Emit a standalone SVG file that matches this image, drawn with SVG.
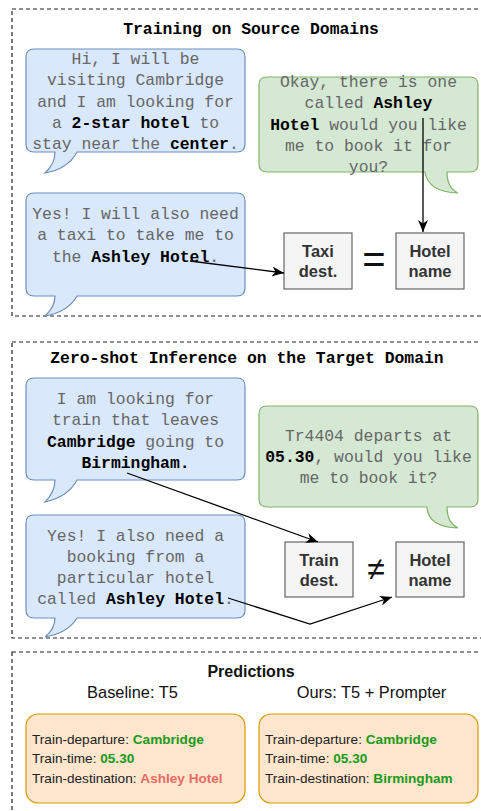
<svg xmlns="http://www.w3.org/2000/svg" width="481" height="811" viewBox="0 0 481 811">
<style>
.frame{fill:none;stroke:#222;stroke-width:1.2;stroke-dasharray:4 3}
.blue{fill:#dae8fc;stroke:#6c8ebf;stroke-width:1.2}
.green{fill:#d5e8d4;stroke:#82b366;stroke-width:1.2}
.box{fill:#f5f5f5;stroke:#666;stroke-width:1.2}
.pred{fill:#ffe6cc;stroke:#d79b00;stroke-width:1.2}
.mono{font-family:"Liberation Mono",monospace;font-size:16.4px;fill:#666;text-anchor:middle}
.b{font-weight:bold;fill:#000}
.title{font-family:"Liberation Mono",monospace;font-size:16.4px;font-weight:bold;fill:#000;text-anchor:middle}
.lbl{font-family:"Liberation Sans",Arial,sans-serif;font-size:16.5px;font-weight:bold;fill:#333;text-anchor:middle}
.sans{font-family:"Liberation Sans",Arial,sans-serif;fill:#111}
.pt{font-family:"Liberation Sans",Arial,sans-serif;font-size:13.6px;fill:#222}
.ok{font-weight:bold;fill:#1a9a1a}
.bad{font-weight:bold;fill:#ea6b66}
.edge{fill:none;stroke:#000;stroke-width:1.3}
</style>
<defs>
<marker id="arr" markerUnits="userSpaceOnUse" markerWidth="12" markerHeight="10" refX="12" refY="5" orient="auto">
<path d="M0,0 L12,5 L0,10 L3.5,5 Z" fill="#000"/>
</marker>
</defs>

<g id="frames">
<rect class="frame" x="12" y="9" width="480" height="307"/>
<rect class="frame" x="12" y="342" width="480" height="296"/>
<rect class="frame" x="12" y="652" width="480" height="180"/>
</g>

<g id="title1"><text class="title" x="251" y="34">Training on Source Domains</text></g>

<g id="bubble1">
<path class="blue" d="M34,49 H237 Q245,49 245,57 V144 Q245,152 237,152 H77 Q68,169 45,173 Q55,164 55,152 H34 Q26,152 26,144 V57 Q26,49 34,49 Z"/>
<text class="mono" x="135.5" y="64">Hi, I will be</text>
<text class="mono" x="135.5" y="85">visiting Cambridge</text>
<text class="mono" x="135.5" y="106.5">and I am looking for</text>
<text class="mono" x="135.5" y="127.5">a <tspan class="b">2-star hotel</tspan> to</text>
<text class="mono" x="135.5" y="149">stay near the <tspan class="b">center</tspan>.</text>
</g>

<g id="bubble2">
<path class="green" d="M267,77 H470 Q478,77 478,85 V164 Q478,172 470,172 H447 Q447,188 458,193 Q428,192 425,172 H267 Q259,172 259,164 V85 Q259,77 267,77 Z"/>
<text class="mono" x="368.5" y="87">Okay, there is one</text>
<text class="mono" x="368.5" y="108">called <tspan class="b">Ashley</tspan></text>
<text class="mono" x="368.5" y="129.5"><tspan class="b">Hotel</tspan> would you like</text>
<text class="mono" x="368.5" y="150.5">me to book it for</text>
<text class="mono" x="368.5" y="172">you?</text>
</g>

<g id="bubble3">
<path class="blue" d="M34,193 H237 Q245,193 245,201 V288 Q245,296 237,296 H77 Q68,312 45,316 Q55,307 55,296 H34 Q26,296 26,288 V201 Q26,193 34,193 Z"/>
<text class="mono" x="135.5" y="219">Yes! I will also need</text>
<text class="mono" x="135.5" y="240">a taxi to take me to</text>
<text class="mono" x="135.5" y="261.5">the <tspan class="b">Ashley Hotel</tspan>.</text>
</g>

<g id="taxi">
<rect class="box" x="284" y="233" width="68" height="56"/>
<text class="lbl" x="318" y="257">Taxi</text>
<text class="lbl" x="318" y="277">dest.</text>
</g>
<g id="eq"><text class="sans" x="374" y="273" font-size="40" text-anchor="middle">=</text></g>
<g id="hotel1">
<rect class="box" x="396" y="233" width="68" height="56"/>
<text class="lbl" x="430" y="257">Hotel</text>
<text class="lbl" x="430" y="277">name</text>
</g>

<g id="title2"><text class="title" x="247" y="363">Zero-shot Inference on the Target Domain</text></g>

<g id="bubble4">
<path class="blue" d="M34,378 H237 Q245,378 245,386 V472 Q245,480 237,480 H77 Q68,497 45,502 Q55,492 55,480 H34 Q26,480 26,472 V386 Q26,378 34,378 Z"/>
<text class="mono" x="135.5" y="404">I am looking for</text>
<text class="mono" x="135.5" y="425">train that leaves</text>
<text class="mono" x="135.5" y="446.5"><tspan class="b">Cambridge</tspan> going to</text>
<text class="mono" x="135.5" y="467.5"><tspan class="b">Birmingham.</tspan></text>
</g>

<g id="bubble5">
<path class="green" d="M267,406 H470 Q478,406 478,414 V499 Q478,507 470,507 H447 Q447,523 458,528 Q428,527 427,507 H267 Q259,507 259,499 V414 Q259,406 267,406 Z"/>
<text class="mono" x="368.5" y="441">Tr4404 departs at</text>
<text class="mono" x="368.5" y="462"><tspan class="b">05.30</tspan>, would you like</text>
<text class="mono" x="368.5" y="483">me to book it?</text>
</g>

<g id="bubble6">
<path class="blue" d="M34,515 H237 Q245,515 245,523 V610 Q245,618 237,618 H77 Q68,633 45,637 Q55,629 55,618 H34 Q26,618 26,610 V523 Q26,515 34,515 Z"/>
<text class="mono" x="135.5" y="541">Yes! I also need a</text>
<text class="mono" x="135.5" y="562">booking from a</text>
<text class="mono" x="135.5" y="583">particular hotel</text>
<text class="mono" x="135.5" y="604">called <tspan class="b">Ashley Hotel</tspan>.</text>
</g>

<g id="train">
<rect class="box" x="285" y="542" width="68" height="55"/>
<text class="lbl" x="319" y="566">Train</text>
<text class="lbl" x="319" y="586">dest.</text>
</g>
<g id="neq"><text class="sans" x="376" y="580" font-size="32" text-anchor="middle">≠</text></g>
<g id="hotel2">
<rect class="box" x="396" y="542" width="68" height="55"/>
<text class="lbl" x="430" y="566">Hotel</text>
<text class="lbl" x="430" y="586">name</text>
</g>

<g id="predictions">
<text class="sans" x="251" y="677" font-size="16" font-weight="bold" text-anchor="middle">Predictions</text>
<text class="sans" x="132.5" y="698" font-size="16.4" text-anchor="middle">Baseline: T5</text>
<text class="sans" x="371.5" y="698" font-size="16.4" text-anchor="middle">Ours: T5 + Prompter</text>
</g>

<g id="pred1">
<rect class="pred" x="26" y="714" width="219" height="89" rx="12"/>
<text class="pt" x="32" y="744">Train-departure: <tspan class="ok">Cambridge</tspan></text>
<text class="pt" x="32" y="763">Train-time: <tspan class="ok">05.30</tspan></text>
<text class="pt" x="32" y="783">Train-destination: <tspan class="bad">Ashley Hotel</tspan></text>
</g>
<g id="pred2">
<rect class="pred" x="259" y="714" width="219" height="89" rx="12"/>
<text class="pt" x="265" y="744">Train-departure: <tspan class="ok">Cambridge</tspan></text>
<text class="pt" x="265" y="763">Train-time: <tspan class="ok">05.30</tspan></text>
<text class="pt" x="265" y="783">Train-destination: <tspan class="ok">Birmingham</tspan></text>
</g>

<g id="connectors">
<path class="edge" d="M423,118 V232" marker-end="url(#arr)"/>
<path class="edge" d="M190,261 L284,273" marker-end="url(#arr)"/>
<path class="edge" d="M127,473 L318,542" marker-end="url(#arr)"/>
<path class="edge" d="M228,598 L310,624 L392,597" marker-end="url(#arr)"/>
</g>
</svg>
